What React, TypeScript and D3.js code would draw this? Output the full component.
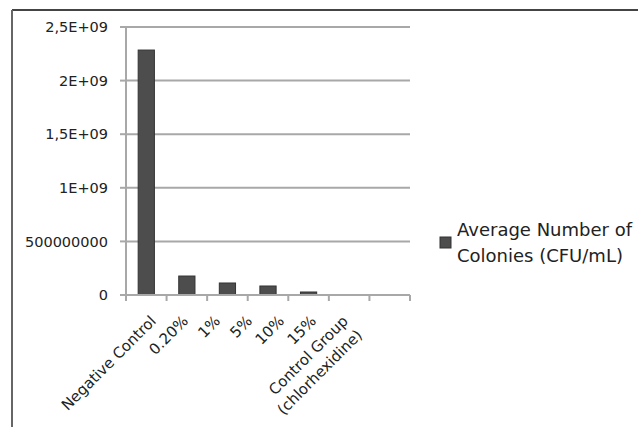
import React from "react";
import * as d3 from "d3";

const categories = [
  "Negative Control",
  "0.20%",
  "1%",
  "5%",
  "10%",
  "15%",
  "Control Group\n(chlorhexidine)",
];
const values = [2.285e9, 0.177e9, 0.112e9, 0.084e9, 0.028e9, 0.002e9, 0];
const yTicks = [0, 5e8, 1e9, 1.5e9, 2e9, 2.5e9];
const yTickLabels = ["0", "500000000", "1E+09", "1,5E+09", "2E+09", "2,5E+09"];
const seriesName = ["Average Number of", "Colonies (CFU/mL)"];

const W = 638;
const H = 427;
const plot = { left: 126, right: 410, top: 27, bottom: 295 };
const font = "'DejaVu Sans', sans-serif";

export default function App() {
  const x = d3
    .scaleBand<string>()
    .domain(categories)
    .range([plot.left, plot.right])
    .paddingInner(0.6)
    .paddingOuter(0.3);
  const y = d3.scaleLinear().domain([0, 2.5e9]).range([plot.bottom, plot.top]);
  const labelX = d3.scalePoint<string>().domain(categories).range([157, 349]);
  const step = (plot.right - plot.left) / categories.length;
  const boundaries = d3.range(categories.length + 1).map((i) => plot.left + i * step);

  return (
    <svg
      width={W}
      height={H}
      style={{ position: "absolute", left: 0, top: 0, background: "#fff" }}
    >
      <rect x={0} y={0} width={W} height={H} fill="#fff" />
      {/* frame */}
      <line x1={12} y1={10} x2={W} y2={10} stroke="#444" strokeWidth={2} />
      <line x1={12} y1={10} x2={12} y2={H} stroke="#666" strokeWidth={2} />

      {/* gridlines */}
      {yTicks.map((t, i) =>
        i === 0 ? null : (
          <line
            key={"g" + i}
            x1={plot.left}
            x2={plot.right}
            y1={y(t)}
            y2={y(t)}
            stroke="#a8a8a8"
            strokeWidth={2}
          />
        )
      )}
      {/* y axis */}
      <line x1={plot.left} x2={plot.left} y1={plot.top} y2={plot.bottom} stroke="#a8a8a8" strokeWidth={2} />
      {yTicks.map((t, i) => (
        <g key={"yt" + i}>
          <line x1={plot.left - 6} x2={plot.left} y1={y(t)} y2={y(t)} stroke="#a8a8a8" strokeWidth={2} />
          <text
            x={108}
            y={y(t)}
            dy="0.36em"
            textAnchor="end"
            fontFamily={font}
            fontSize={14.5}
            fill="#222"
          >
            {yTickLabels[i]}
          </text>
        </g>
      ))}

      {/* bars */}
      {categories.map((c, i) => (
        <rect
          key={"b" + i}
          x={x(c)}
          y={y(values[i])}
          width={x.bandwidth()}
          height={plot.bottom - y(values[i])}
          fill="#4d4d4d"
          stroke="#333"
          strokeWidth={1}
        />
      ))}

      {/* x axis */}
      <line x1={plot.left} x2={plot.right} y1={plot.bottom} y2={plot.bottom} stroke="#a8a8a8" strokeWidth={2} />
      {boundaries.map((bx, i) => (
        <line key={"xt" + i} x1={bx} x2={bx} y1={plot.bottom} y2={plot.bottom + 6} stroke="#a8a8a8" strokeWidth={2} />
      ))}
      {categories.map((c, i) => {
        const lines = c.split("\n");
        const ax = labelX(c)!;
        const ay = 322;
        return (
          <text
            key={"xl" + i}
            transform={`translate(${ax},${ay}) rotate(-45)`}
            textAnchor="end"
            fontFamily={font}
            fontSize={15}
            fill="#222"
          >
            {lines.map((l, j) => (
              <tspan key={j} x={0} dy={j === 0 ? 0 : 20}>
                {l}
              </tspan>
            ))}
          </text>
        );
      })}

      {/* legend */}
      <rect x={440} y={237} width={11} height={11} fill="#4d4d4d" stroke="#333" strokeWidth={1} />
      <text x={457} y={236} fontFamily={font} fontSize={18} fill="#222">
        {seriesName.map((l, j) => (
          <tspan key={j} x={457} dy={j === 0 ? 0 : 26}>
            {l}
          </tspan>
        ))}
      </text>
    </svg>
  );
}
